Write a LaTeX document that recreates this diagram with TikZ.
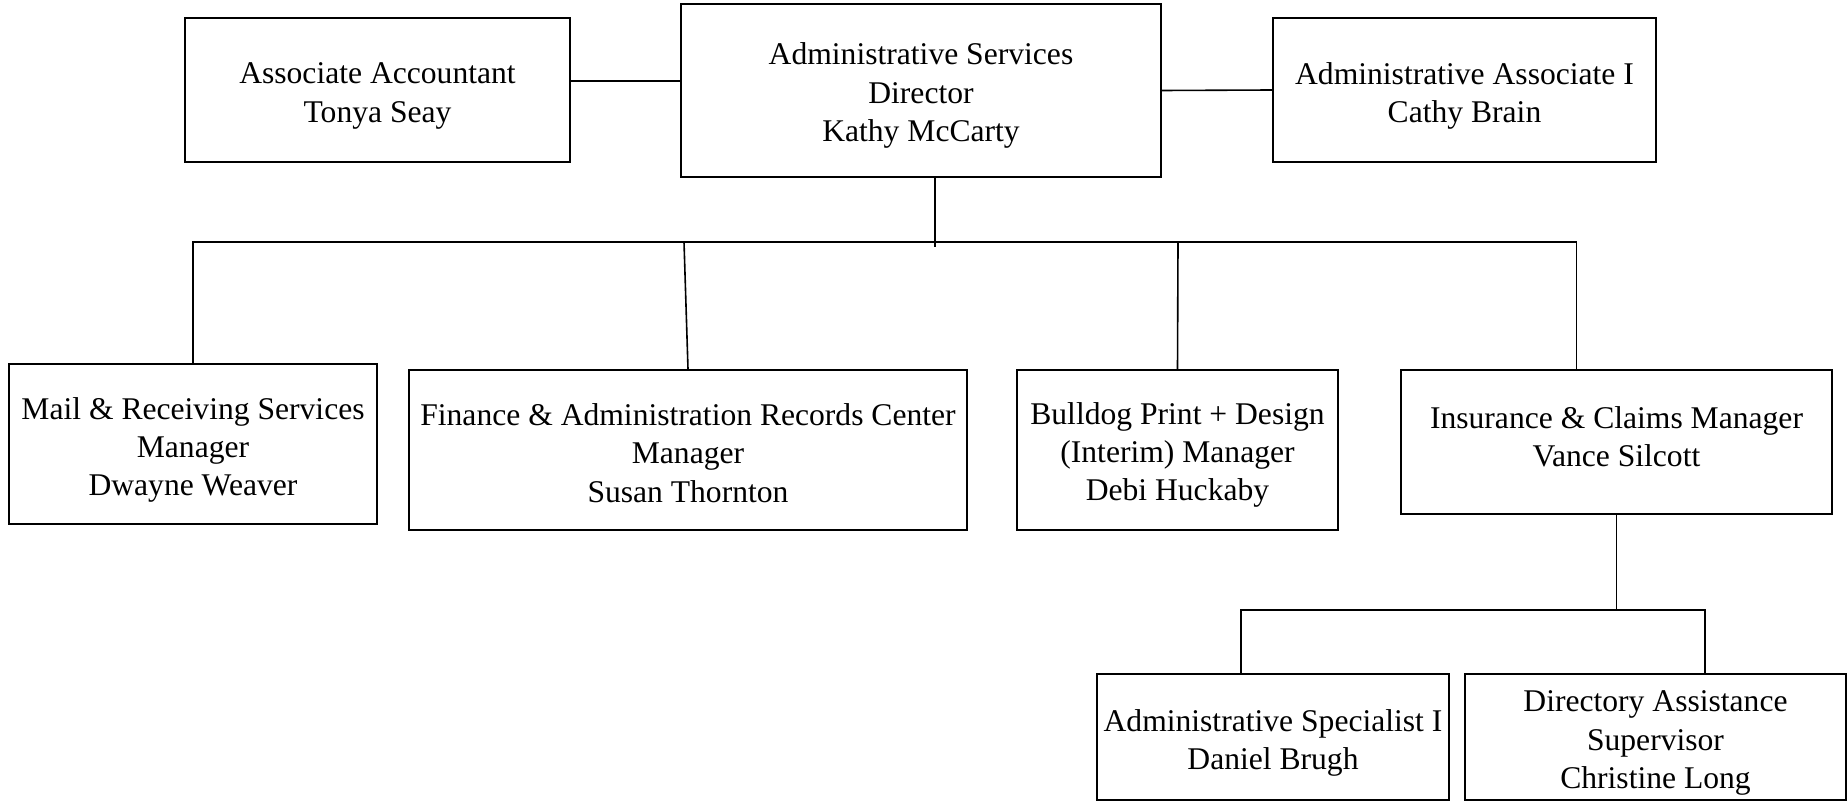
\documentclass[tikz,border=0pt]{standalone}
\usepackage{fontspec}
\setmainfont{Liberation Serif}
\begin{document}
\begin{tikzpicture}[x=1pt,y=-1pt,
  box/.style={draw, line width=2pt, inner sep=0pt},
  txt/.style={inner sep=0pt, align=center, font=\fontsize{31.6}{38.3}\selectfont},
  conn/.style={line width=1.6pt}]
\useasboundingbox[fill=white] (0,0) rectangle (1847,802);
% top row boxes
\node[box, minimum width=385pt, minimum height=144pt] (acc) at (377.5,90) {};
\node[box, minimum width=480pt, minimum height=173pt] (dir) at (921,90.5) {};
\node[box, minimum width=383pt, minimum height=144pt] (aa1) at (1464.5,90) {};
% middle row boxes
\node[box, minimum width=368pt, minimum height=160pt] (mail) at (193,444) {};
\node[box, minimum width=558pt, minimum height=160pt] (fin) at (688,450) {};
\node[box, minimum width=321pt, minimum height=160pt] (bull) at (1177.5,450) {};
\node[box, minimum width=431pt, minimum height=144pt] (ins) at (1616.5,442) {};
% bottom row boxes
\node[box, minimum width=352pt, minimum height=126pt] (spec) at (1273,737) {};
\node[box, minimum width=381pt, minimum height=126pt] (dasst) at (1655.5,737) {};
% texts
\node[txt] (acc-t) at ([yshift=-6pt]acc.center) {Associate Accountant\\Tonya Seay};
\node[txt] (dir-t) at ([yshift=-5pt]dir.center) {Administrative Services\\Director\\Kathy McCarty};
\node[txt] (aa1-t) at ([yshift=-6pt]aa1.center) {Administrative Associate I\\Cathy Brain};
\node[txt] (mail-t) at ([yshift=-6pt]mail.center) {Mail \& Receiving Services\\Manager\\Dwayne Weaver};
\node[txt] (fin-t) at ([yshift=-3pt]fin.center) {Finance \& Administration Records Center\\Manager\\Susan Thornton};
\node[txt] (bull-t) at ([yshift=-5pt]bull.center) {Bulldog Print + Design\\(Interim) Manager\\Debi Huckaby};
\node[txt] (ins-t) at ([yshift=5pt]ins.center) {Insurance \& Claims Manager\\Vance Silcott};
\node[txt] (spec-t) at ([yshift=-6pt]spec.center) {Administrative Specialist I\\Daniel Brugh};
\node[txt] (dasst-t) at ([yshift=-6pt]dasst.center) {Directory Assistance\\Supervisor\\Christine Long};
% connectors
\draw[conn] ([yshift=9pt]acc.east) -- ([yshift=9.5pt]dir.west);
\draw[conn] (dir.east) -- (aa1.west);
\coordinate (dv) at (935,247);
\coordinate (b1) at (193,242);
\coordinate (b2) at (684,242);
\coordinate (b3) at (1178,242);
\coordinate (b4) at (1576.5,242);
\draw[conn] (dir.south -| dv) -- (dv);
\draw[conn] (mail.north) -- (b1) -- (b4) -- (ins.north -| b4);
\draw[conn] (b2) -- (fin.north);
\draw[conn] (b3) -- (bull.north);
\coordinate (s1) at (1241,610);
\coordinate (s2) at (1705,610);
\draw[conn] (ins.south) -- (ins.south |- s1);
\draw[conn] (spec.north -| s1) -- (s1) -- (s2) -- (dasst.north -| s2);
\end{tikzpicture}
\end{document}
